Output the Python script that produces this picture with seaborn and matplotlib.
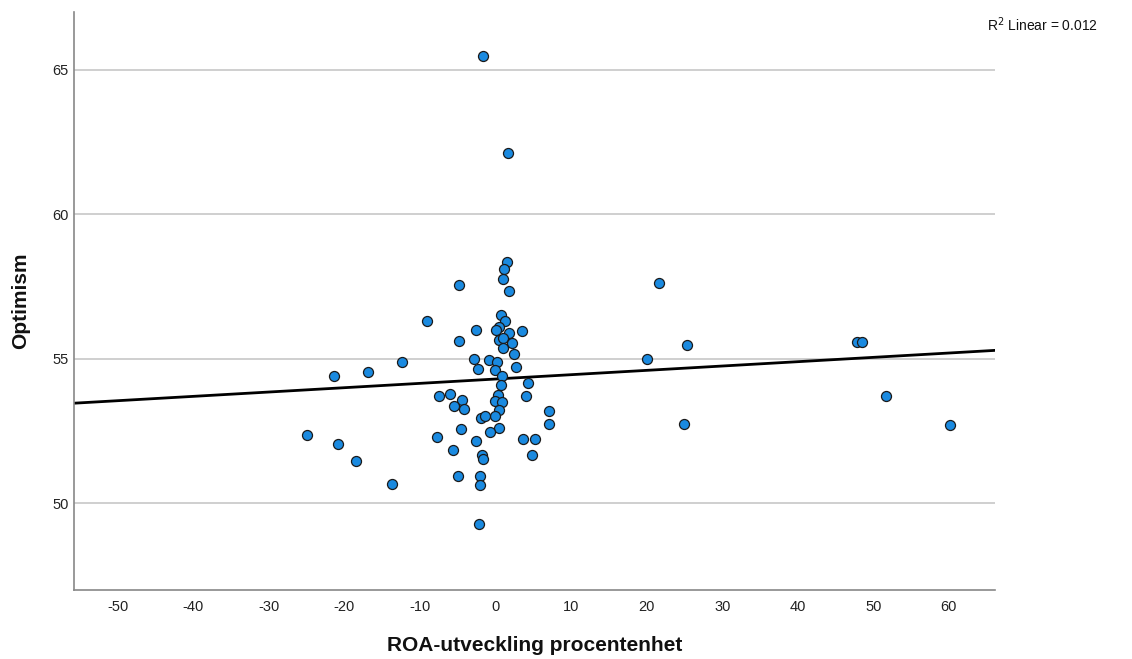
import numpy as np
import pandas as pd
import matplotlib
matplotlib.use("Agg")
import matplotlib.pyplot as plt
import seaborn as sns

roa = [-1.7, 1.6, 21.6, 20.1, 25.4, 25.0, 47.9, 48.5, 51.7, 60.1,
       -24.9, -20.8, -18.5, -13.7, -21.3, -16.9, -12.3, -9.1, -4.8, -2.2,
       1.50, 1.15, 0.97, 1.85, 0.70, 1.28, -2.64, 0.49, 0.09, 1.85,
       3.57, -4.85, 0.49, 0.97, 2.25, 1.06, 2.47, -2.82, -0.88, 0.18,
       -2.25, -0.04, 2.74, 0.88, 0.79, 4.27, -7.45, -6.08, -4.41, 0.35,
       4.00, -0.09, 0.88, -5.42, -4.10, 0.49, 7.10, -0.04, -1.94, -1.41,
       7.05, -4.53, 0.49, -0.75, -7.80, -2.55, 3.66, 5.29, -5.59, 4.85,
       -1.72, -1.59, -5.02, -2.07, -2.07]
optimism = [65.48, 62.13, 57.64, 54.98, 55.48, 52.74, 55.59, 55.59, 53.72, 52.72,
            52.38, 52.04, 51.45, 50.66, 54.39, 54.53, 54.90, 56.30, 57.54, 49.27,
            58.36, 58.09, 57.75, 57.34, 56.52, 56.32, 56.00, 56.11, 56.00, 55.90,
            55.97, 55.60, 55.66, 55.73, 55.54, 55.39, 55.18, 54.99, 54.97, 54.90,
            54.63, 54.62, 54.70, 54.42, 54.10, 54.15, 53.71, 53.77, 53.57, 53.76,
            53.70, 53.55, 53.49, 53.38, 53.25, 53.24, 53.20, 53.03, 52.94, 53.01,
            52.73, 52.58, 52.59, 52.45, 52.28, 52.14, 52.21, 52.21, 51.86, 51.68,
            51.66, 51.52, 50.94, 50.94, 50.64]

# fitted linear trend as reported in the chart (R^2 = 0.012)
fit_intercept = 54.30
fit_slope = 0.0150

x_ticks = [-50, -40, -30, -20, -10, 0, 10, 20, 30, 40, 50, 60]
y_ticks = [50, 55, 60, 65]
r2_label = "R$^2$ Linear = 0.012"

df = pd.DataFrame({"ROA": roa, "Optimism": optimism})

sns.set_style("white")
plt.rcParams["font.family"] = ["Liberation Sans", "DejaVu Sans"]

fig = plt.figure(figsize=(11.32, 6.59), dpi=100)
ax = fig.add_axes([0.0658, 0.1047, 0.8132, 0.8771])
ax.set_xlim(-55.7, 66.1)
ax.set_ylim(47.0, 67.0)

ax.set_yticks(y_ticks)
ax.set_xticks(x_ticks)
for yv in y_ticks:
    ax.axhline(yv, color="#cfcfcf", lw=1.4, zorder=0)

ax.axline((0, fit_intercept), slope=fit_slope, color="black", lw=2.0, zorder=2)

sns.scatterplot(data=df, x="ROA", y="Optimism", ax=ax, s=52, color="#1a8ae0",
                edgecolor="#1a1a1a", linewidth=0.9, alpha=1, zorder=3)

ax.set_xlim(-55.7, 66.1)
ax.set_ylim(47.0, 67.0)

for s in ["top", "right"]:
    ax.spines[s].set_visible(False)
for s in ["left", "bottom"]:
    ax.spines[s].set_color("#888888")
    ax.spines[s].set_linewidth(1.2)

ax.tick_params(axis="both", length=0, labelsize=10.5, colors="#222222")
ax.tick_params(axis="x", pad=7.5)
ax.tick_params(axis="y", pad=4)
ax.set_xticklabels([f"{t}" for t in x_ticks])

ax.set_xlabel("ROA-utveckling procentenhet", fontsize=15, fontweight="bold",
              labelpad=15.5, color="#111111")
ax.set_ylabel("Optimism", fontsize=15, fontweight="bold", labelpad=16, color="#111111")

fig.text(0.970, 0.962, r2_label, ha="right", va="center", fontsize=10, color="#111111")

fig.savefig("out.png", dpi=100)
